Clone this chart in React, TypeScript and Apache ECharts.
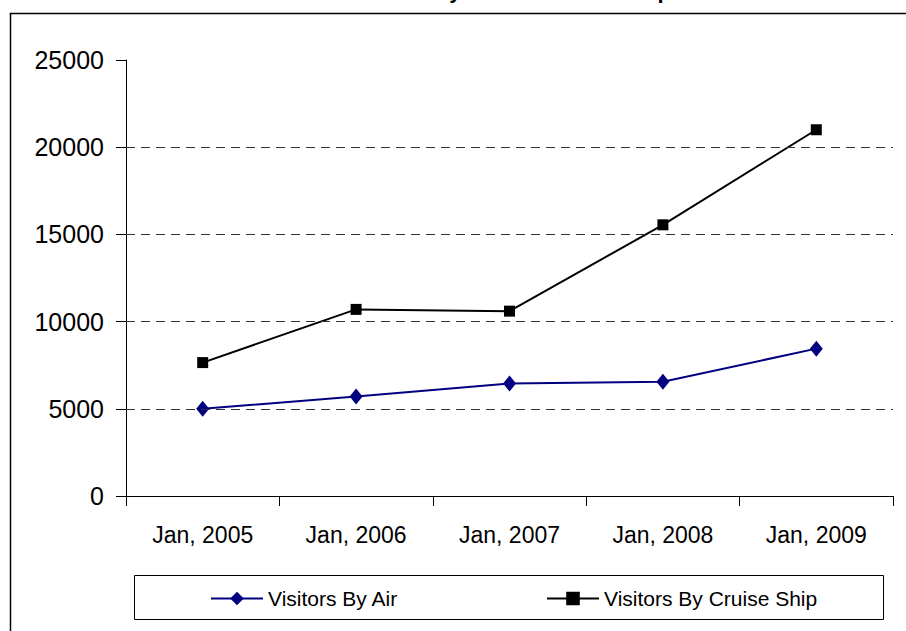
import React, { useEffect, useRef } from "react";
import * as echarts from "echarts";

const categories = ["Jan, 2005", "Jan, 2006", "Jan, 2007", "Jan, 2008", "Jan, 2009"];
const airValues = [5000, 5700, 6450, 6550, 8450];
const cruiseValues = [7650, 10700, 10600, 15550, 21000];
const gridValues = [5000, 10000, 15000, 20000];
const titleText = "Visitors By Air and Cruise Ship";

const FONT = "'Liberation Sans', Arial, sans-serif";

export default function App() {
  const ref = useRef<HTMLDivElement>(null);
  useEffect(() => {
    if (!ref.current) return;
    const chart = echarts.init(ref.current, undefined, { renderer: "svg" });
    chart.setOption({
      animation: false,
      backgroundColor: "#ffffff",
      textStyle: { fontFamily: FONT },
      grid: { left: 126, right: 13, top: 60, bottom: 135, containLabel: false },
      xAxis: {
        type: "category",
        data: categories,
        boundaryGap: true,
        axisLine: { lineStyle: { color: "#000", width: 1 } },
        axisTick: { show: true, length: 10, lineStyle: { color: "#000" } },
        axisLabel: { color: "#000", fontSize: 23, margin: 27, fontFamily: FONT },
        splitLine: { show: false },
      },
      yAxis: {
        type: "value",
        min: 0,
        max: 25000,
        interval: 5000,
        axisLine: { show: true, lineStyle: { color: "#000", width: 1 } },
        axisTick: { show: true, length: 10, lineStyle: { color: "#000" } },
        axisLabel: {
          color: "#000",
          fontSize: 25,
          margin: 22,
          fontFamily: FONT,
          formatter: (v: number) => String(v),
        },
        splitLine: { show: false },
      },
      legend: [
        {
          data: ["Visitors By Air"],
          left: 205,
          top: 583,
          itemWidth: 52,
          itemHeight: 17,
          textStyle: { color: "#000", fontSize: 21, fontFamily: FONT },
        },
        {
          data: ["Visitors By Cruise Ship"],
          left: 541,
          top: 583,
          itemWidth: 52,
          itemHeight: 17,
          textStyle: { color: "#000", fontSize: 21, fontFamily: FONT },
        },
      ],
      graphic: [
        {
          type: "rect",
          shape: { x: 10.5, y: 13.5, width: 1000, height: 1000 },
          style: { fill: "none", stroke: "#000", lineWidth: 1.5 },
          silent: true,
        },
        {
          type: "rect",
          shape: { x: 134.5, y: 575.5, width: 749, height: 44 },
          style: { fill: "none", stroke: "#000", lineWidth: 1 },
          silent: true,
        },
        {
          type: "text",
          left: 347,
          top: -21,
          style: {
            text: titleText,
            fill: "#000",
            font: `bold 22px ${FONT}`,
          },
          silent: true,
        },
      ],
      series: [
        {
          name: "Visitors By Air",
          type: "line",
          data: airValues,
          symbol: "diamond",
          symbolSize: [13, 16],
          lineStyle: { color: "#000080", width: 2 },
          itemStyle: { color: "#000080" },
          markLine: {
            silent: true,
            symbol: ["none", "none"],
            label: { show: false },
            lineStyle: { color: "#333", type: [9, 6], width: 1 },
            data: gridValues.map((v) => ({ yAxis: v })),
          },
          z: 3,
        },
        {
          name: "Visitors By Cruise Ship",
          type: "line",
          data: cruiseValues,
          symbol: "rect",
          symbolSize: 11,
          lineStyle: { color: "#000", width: 2 },
          itemStyle: { color: "#000" },
          z: 4,
        },
      ],
    });
    return () => chart.dispose();
  }, []);
  return (
    <div
      ref={ref}
      style={{ position: "fixed", left: 0, top: 0, width: 906, height: 631 }}
    />
  );
}
